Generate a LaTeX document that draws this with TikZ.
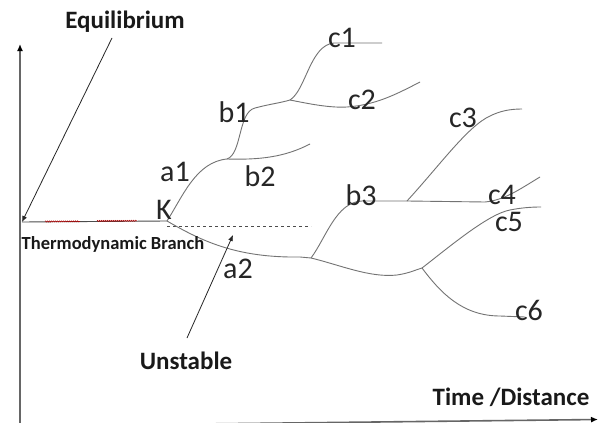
\documentclass[tikz,border=0pt]{standalone}
\usepackage{fontspec}
\setmainfont{Carlito}
\usetikzlibrary{arrows.meta,decorations.pathmorphing}
\begin{document}
\begin{tikzpicture}[x=1pt,y=-1pt,
  branch/.style={draw=black!55,line width=0.9pt},
  axis/.style={draw=black!60,line width=1.6pt,-{Latex[length=7pt,width=6pt,color=black]}},
  pointer/.style={draw=black!85,line width=0.8pt,-{Latex[length=6pt,width=5pt]}},
  lbl/.style={font=\fontsize{30}{32}\selectfont,text=black!85,inner sep=0pt},
  bold/.style={font=\bfseries\fontsize{#1}{#1}\selectfont,text=black!90,inner sep=0pt},
  squiggle/.style={draw=red!70!black,line width=0.5pt,decorate,decoration={snake,amplitude=0.6pt,segment length=2pt}}]
\useasboundingbox (0,0) rectangle (598,423);
\fill[white] (0,0) rectangle (598,423);
% axes
\coordinate (O) at (20,423);
\coordinate (Ytop) at (20,44);
\draw[axis] (O) -- (Ytop);
\begin{scope}
\clip (0,0) rectangle (598,423);
\coordinate (Xs) at (20,426);
\coordinate (Xe) at (598,419.5);
\draw[axis] (Xs) -- (Xe);
\end{scope}
% points
\coordinate (E0) at (22,222);
\coordinate (K) at (167,221);
\coordinate (A1f) at (227,159);
\coordinate (B1f) at (290,100);
\coordinate (A2f) at (311,258);
\coordinate (B3f) at (407,201);
\coordinate (Lf) at (422,268);
\coordinate (D1) at (167,226);
\coordinate (D2) at (311,226);
% thermodynamic branch
\draw[draw=black!70,line width=0.9pt] (E0) -- (K);
\draw[squiggle] (45,221.5) -- (80,221.3);
\draw[squiggle] (97,221) -- (137,220.8);
\draw[black!70,dashed,line width=0.6pt] (D1) -- (D2);
% upper branches
\draw[branch] (K) .. controls (183,196) and (196,162) .. (A1f);
\draw[branch] (A1f) .. controls (260,160) and (285,157) .. (310,144);
\draw[branch] (A1f) .. controls (242,154) and (238,112) .. (255,108) .. controls (270,104) and (280,103) .. (B1f);
\draw[branch] (B1f) .. controls (306,90) and (310,45) .. (334,43) -- (382,43);
\draw[branch] (B1f) .. controls (310,104) and (330,108) .. (347,107) .. controls (375,105) and (395,95) .. (420,82);
% lower branches
\draw[branch] (K) .. controls (200,240) and (235,258) .. (300,257) -- (A2f);
\draw[branch] (A2f) .. controls (326,238) and (336,202) .. (362,201) -- (B3f);
\draw[branch] (B3f) -- (485,202) .. controls (505,200) and (520,189) .. (540,177);
\draw[branch] (B3f) .. controls (440,165) and (468,126) .. (490,116) .. controls (500,111) and (510,109) .. (522,109);
\draw[branch] (A2f) .. controls (340,265) and (370,278) .. (397,275) .. controls (410,273) and (415,270) .. (Lf);
\draw[branch] (Lf) .. controls (448,248) and (488,214) .. (510,210) .. controls (520,208) and (530,207) .. (541,207);
\draw[branch] (Lf) .. controls (440,292) and (462,316) .. (500,316) -- (525,317);
% labels
\node[lbl] (lK) at (164,210) {K};
\node[lbl] (la1) at (175,172) {a1};
\node[lbl] (la2) at (238,269) {a2};
\node[lbl] (lb1) at (234,112) {b1};
\node[lbl] (lb2) at (260,176) {b2};
\node[lbl] (lb3) at (361,195) {b3};
\node[lbl] (lc1) at (342,38) {c1};
\node[lbl] (lc2) at (362,100) {c2};
\node[lbl] (lc3) at (463,118) {c3};
\node[lbl] (lc4) at (502,195) {c4};
\node[lbl] (lc5) at (509,222) {c5};
\node[lbl] (lc6) at (529,310) {c6};
\node[bold=25] (eq) at (125,22) {Equilibrium};
\node[bold=18.5] (tb) at (113,244) {Thermodynamic Branch};
\node[bold=25] (un) at (186,361) {Unstable};
\node[bold=25] (td) at (511,397) {Time /Distance};
% pointers
\coordinate (EqS) at (112,38);
\coordinate (UnS) at (187,338);
\coordinate (UnE) at (233,235);
\draw[pointer] (EqS) -- (E0);
\draw[pointer] (UnS) -- (UnE);
\end{tikzpicture}
\end{document}
